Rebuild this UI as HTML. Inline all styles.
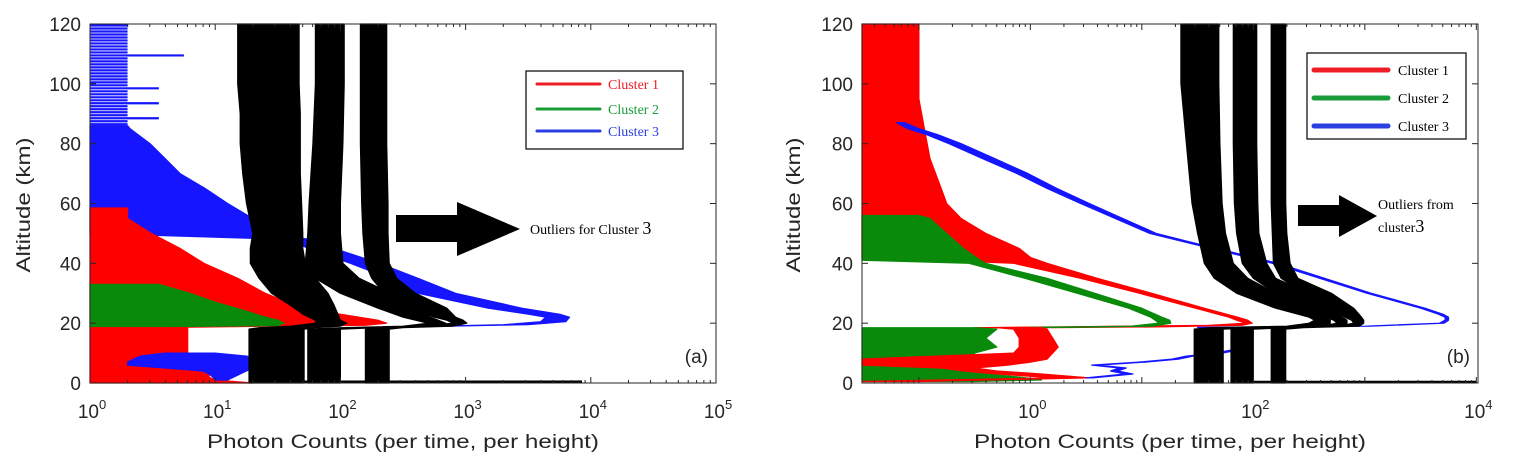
<!DOCTYPE html>
<html><head><meta charset="utf-8"><style>
html,body{margin:0;padding:0;background:#fff;}
svg{display:block;}
.tk{font-family:"Liberation Sans",sans-serif;font-size:19px;fill:#262626;}
.ttl{font-family:"Liberation Sans",sans-serif;font-size:19px;fill:#262626;}
.ser{font-family:"Liberation Serif",serif;font-size:14px;}
</style></head><body>
<svg id="chart" width="1516" height="470" viewBox="0 0 1516 470" xmlns="http://www.w3.org/2000/svg">
<rect width="1516" height="470" fill="#fff"/>
<g id="pa"></g>
<g id="pb"></g>
</svg>
<script>
// ---------- Panel A data (log10 photon counts vs altitude km) ----------
const a_black1_alt=[0,18,18.5,19,20,21,23,26,30,35,40,45,50,60,70,80,90,100,110,120];
const a_black1_lo=[1.27,1.27,1.35,1.6,1.8,1.8,1.7,1.6,1.45,1.35,1.28,1.28,1.3,1.25,1.22,1.2,1.2,1.18,1.18,1.18];
const a_black1_hi=[1.71,1.71,1.8,2.0,2.05,2.0,1.98,1.95,1.9,1.8,1.72,1.7,1.7,1.69,1.68,1.68,1.68,1.67,1.67,1.67];
const a_black2_alt=[0,18,18.5,19,20,21,22,25,30,35,40,50,60,80,100,120];
const a_black2_lo=[1.74,1.74,2.0,2.5,2.7,2.6,2.5,2.3,2.0,1.8,1.72,1.74,1.75,1.78,1.8,1.8];
const a_black2_hi=[2.0,2.0,2.3,2.8,2.84,2.78,2.72,2.6,2.4,2.15,2.02,2.0,2.0,2.02,2.03,2.03];
const a_black3_alt=[0,18,18.5,19,20,21,22,25,30,35,40,50,60,80,100,120];
const a_black3_lo=[2.2,2.2,2.3,2.6,2.9,2.85,2.75,2.55,2.35,2.25,2.2,2.18,2.17,2.16,2.16,2.16];
const a_black3_hi=[2.39,2.39,2.5,2.9,3.01,2.98,2.92,2.85,2.6,2.45,2.39,2.38,2.38,2.37,2.37,2.37];
const a_blackBase=[1.3,3.93];
const a_blue_alt=[18.8,19.5,20.5,22,23,25,30,35,40,45,48,50,55,60,65,70,75,80,85,86];
const a_blue_lo=[2.5,3.3,3.6,3.64,3.5,3.18,2.62,2.39,2.08,1.74,1.6,0,0,0,0,0,0,0,0,0];
const a_blue_hi=[2.6,3.5,3.8,3.83,3.75,3.45,2.92,2.62,2.31,1.95,1.75,1.45,1.3,1.1,0.92,0.72,0.6,0.48,0.32,0.3];
const a_stripe_alt=[86.5,87.5,88.5,89.5,90.5,91.5,92.5,93.5,94.5,95.5,96.5,97.5,98.5,99.5,100.5,101.5,102.5,103.5,104.5,105.5,106.5,107.5,108.5,109.5,110.5,111.5,112.5,113.5,114.5,115.5,116.5,117.5,118.5,119.5];
const a_stripe_len=[0.3,0.3,0.55,0.3,0.3,0.3,0.3,0.55,0.3,0.3,0.3,0.3,0.55,0.3,0.3,0.3,0.3,0.3,0.3,0.3,0.3,0.3,0.3,0.75,0.3,0.3,0.3,0.3,0.3,0.3,0.3,0.3,0.3,0.3];
const a_red_alt=[18.7,19.3,20,21,22,23,24,25,30,35,40,45,50,55,58.5];
const a_red_hi=[0.8,2.2,2.37,2.3,2.15,2.0,1.85,1.7,1.4,1.18,0.91,0.72,0.49,0.3,0.3];
const a_green_alt=[18.8,19.2,20,21,22,24,27,30,33];
const a_green_hi=[0.5,1.5,1.55,1.5,1.4,1.25,1.0,0.8,0.55];
const a_redLow_alt=[0,1,2,3,4,5,6,8,10,15,18,18.5];
const a_redLow_hi=[1.3,1.0,0.95,0.95,0.9,0.8,0.5,0.78,0.78,0.78,0.78,0.78];
const a_blueLow_alt=[1,2,3,4,5,6,7,8,9,10];
const a_blueLow_lo=[1.0,0.98,0.95,0.9,0.6,0.3,0.3,0.35,0.4,0.6];
const a_blueLow_hi=[1.1,1.15,1.2,1.25,1.3,1.3,1.33,1.33,1.25,1.0];
// ---------- Panel B data ----------
const b_black1_alt=[0,18,18.5,19,20,21,22,25,30,35,40,50,60,80,100,120];
const b_black1_lo=[1.47,1.47,1.6,2.3,2.5,2.55,2.5,2.2,1.85,1.65,1.56,1.5,1.45,1.4,1.35,1.35];
const b_black1_hi=[1.73,1.73,2.0,2.6,2.69,2.69,2.65,2.5,2.2,1.95,1.82,1.75,1.72,1.7,1.69,1.69];
const b_black2_lo=[1.8,1.8,2.1,2.6,2.75,2.72,2.65,2.5,2.2,2.0,1.9,1.85,1.83,1.82,1.82,1.82];
const b_black2_hi=[2.0,2.0,2.3,2.8,2.84,2.84,2.8,2.7,2.5,2.2,2.12,2.05,2.04,2.03,2.03,2.03];
const b_black3_lo=[2.16,2.16,2.3,2.75,2.9,2.88,2.82,2.7,2.45,2.25,2.18,2.17,2.16,2.16,2.16,2.16];
const b_black3_hi=[2.29,2.29,2.45,2.95,2.99,2.99,2.97,2.9,2.7,2.4,2.33,2.3,2.29,2.29,2.29,2.29];
const b_blackBase=[1.8,4.0];
const b_red_alt=[18.5,18.8,19.3,20,21,22,25,30,35,40,42,45,50,55,60,65,75,85,95,105,120];
const b_red_lo=[-0.5,0.3,1.6,1.93,1.85,1.78,1.48,0.98,0.45,-0.15,-1.52,-1.52,-1.52,-1.52,-1.52,-1.52,-1.52,-1.52,-1.52,-1.52,-1.52];
const b_red_hi=[0.2,1.2,1.9,1.99,1.95,1.86,1.56,1.09,0.6,0.15,0.0,-0.1,-0.4,-0.62,-0.75,-0.8,-0.9,-0.95,-1.0,-1.0,-1.0];
const b_green_alt=[18.6,19,20,21,22,25,30,35,40,41,45,50,55,56];
const b_green_lo=[0,0.9,1.15,1.12,1.08,0.88,0.42,-0.05,-0.55,-1.52,-1.52,-1.52,-1.52,-1.52];
const b_green_hi=[0.3,1.1,1.26,1.25,1.18,1.0,0.58,0.15,-0.4,-0.45,-0.6,-0.75,-0.9,-1.0];
const b_greenLow_alt=[0.5,1,2,3,5,8,10,12,15,18,18.5];
const b_greenLow_hi=[-0.5,0.1,-0.1,-0.4,-0.6,-0.5,-0.5,-0.3,-0.4,-0.3,-0.5];
const b_redLow_alt=[0.5,1.7,3,4,5,6,7,8,10,12,15,18,18.5];
const b_redLow_lo=[-1.52,0.2,-0.3,-0.6,-0.8,-1.52,-1.52,-1.52,-0.15,-0.1,-0.1,-0.15,-0.3];
const b_redLow_hi=[-1.0,0.53,0.1,-0.3,-0.5,-0.2,0.0,0.15,0.2,0.25,0.2,0.15,0.1];
const b_blue_alt=[18.6,19,20,21,22,23,25,30,40,47,50,55,60,65,70,75,80,83,85,87];
const b_blue_lo=[1.5,3.0,3.67,3.72,3.72,3.66,3.5,3.02,2.17,1.4,1.07,0.76,0.45,0.15,-0.12,-0.43,-0.73,-0.93,-1.1,-1.2];
const b_blue_hi=[1.55,3.05,3.71,3.75,3.75,3.7,3.54,3.06,2.22,1.45,1.13,0.83,0.53,0.24,-0.02,-0.32,-0.62,-0.83,-1.0,-1.13];
const b_blueLow_alt=[1.7,3,4,5,6,7,8,9,10,11];
const b_blueLow_lo=[0.5,0.85,0.72,0.8,0.55,0.97,1.27,1.4,1.66,1.8];
const b_blueLow_hi=[0.56,0.92,0.78,0.86,0.61,1.03,1.33,1.46,1.72,1.86];
const yTicks=[0,20,40,60,80,100,120];
const aXTicks=[0,1,2,3,4,5];
const bXTicks=[0,2,4];

const NS='http://www.w3.org/2000/svg';
const TOP=24,BOT=383;
function yS(alt){return BOT-(alt/120)*(BOT-TOP);}
const A={x0:90,x1:716,l0:0,l1:5};
const B={x0:862,x1:1478,l0:-1.51,l1:4.015};
function xS(P,l){const v=P.x0+(l-P.l0)/(P.l1-P.l0)*(P.x1-P.x0);return Math.max(P.x0,Math.min(P.x1,v));}
function mk(tag,parent,attrs){const e=document.createElementNS(NS,tag);for(const k in attrs)e.setAttribute(k,attrs[k]);parent.appendChild(e);return e;}
function band(g,P,alt,lo,hi,color,name){
  let pts=[];
  for(let i=0;i<alt.length;i++)pts.push(xS(P,hi[i]).toFixed(1)+','+yS(alt[i]).toFixed(1));
  for(let i=alt.length-1;i>=0;i--)pts.push(xS(P,lo===null?P.l0:lo[i]).toFixed(1)+','+yS(alt[i]).toFixed(1));
  const p=mk('polygon',g,{points:pts.join(' '),fill:color,stroke:color,'stroke-width':1.2,'stroke-linejoin':'round'});
  
  
  return p;
}
function txt(g,x,y,s,cls,extra){const t=mk('text',g,Object.assign({x:x,y:y,class:cls},extra||{}));t.textContent=s;return t;}
function axes(g,P,xt,letter,yLabX,yTitleX){
  const fr=mk('rect',g,{x:P.x0,y:TOP,width:P.x1-P.x0,height:BOT-TOP,fill:'none',stroke:'#262626','stroke-width':1});
  
  yTicks.forEach(v=>{
    const y=yS(v);
    mk('line',g,{x1:P.x0,x2:P.x0+6,y1:y,y2:y,stroke:'#262626'});
    mk('line',g,{x1:P.x1,x2:P.x1-6,y1:y,y2:y,stroke:'#262626'});
    const t=txt(g,yLabX,y+7,String(v),'tk',{'text-anchor':'end'});
    
  });
  for(let d=Math.floor(P.l0);d<P.l1;d++){for(let m=1;m<10;m++){const l=d+Math.log10(m);if(l<P.l0||l>P.l1)continue;const x=xS(P,l);const len=m===1?6:3;
    mk('line',g,{x1:x,x2:x,y1:BOT,y2:BOT-len,stroke:'#262626'});mk('line',g,{x1:x,x2:x,y1:TOP,y2:TOP+len,stroke:'#262626'});}}
  xt.forEach(v=>{
    const x=xS(P,v);
    const t=mk('text',g,{x:x+2,y:418,class:'tk','text-anchor':'middle'});
    
    t.appendChild(document.createTextNode('10'));
    const s=document.createElementNS(NS,'tspan');s.setAttribute('dy','-9');s.setAttribute('font-size','13');s.textContent=String(v);t.appendChild(s);
  });
  const xt2=txt(g,(P.x0+P.x1)/2,448,'Photon Counts (per time, per height)','ttl',{'text-anchor':'middle',textLength:392,lengthAdjust:'spacingAndGlyphs'});
  
  const yt=txt(g,0,0,'Altitude (km)','ttl',{'text-anchor':'middle',transform:'translate('+yTitleX+',205) rotate(-90)',textLength:135,lengthAdjust:'spacingAndGlyphs'});
  
  const pl=txt(g,P.x1-8,363,'('+letter+')','tk',{'text-anchor':'end','font-size':'22'});
  
}
function legend(g,bx,by,bw,bh,ys,lx1,lx2,tx,colorText,lw,fs){
  const lg=mk('g',g,{});
  mk('rect',lg,{x:bx,y:by,width:bw,height:bh,fill:'#fff',stroke:'#000','stroke-width':1.2});
  const cols=['#ee1c25','#1a9c3a','#2b3fe0'];
  ys.forEach((y,i)=>{
    const e=mk('g',lg,{});
    mk('line',e,{x1:lx1,x2:lx2,y1:y,y2:y,stroke:cols[i],'stroke-width':lw,'stroke-linecap':'round'});
    txt(e,tx,y+5,'Cluster '+(i+1),'ser',{fill:colorText?cols[i]:'#000','font-size':fs});
  });
}
// ---- Panel A ----
const ga=document.getElementById('pa');
const RED='#ff0000',GRN='#0a8a0a',BLU='#1515ff',BLK='#000';
for(let i=0;i<a_stripe_alt.length;i++){
  const l=mk('line',ga,{x1:xS(A,0),x2:xS(A,a_stripe_len[i]),y1:yS(a_stripe_alt[i]),y2:yS(a_stripe_alt[i]),stroke:BLU,'stroke-width':2.2});
  
  
}
band(ga,A,a_blue_alt,a_blue_lo,a_blue_hi,BLU,'cluster3-profile');
band(ga,A,a_red_alt,null,a_red_hi,RED,'cluster1-profile');
band(ga,A,a_green_alt,null,a_green_hi,GRN,'cluster2-profile');
band(ga,A,a_redLow_alt,null,a_redLow_hi,RED,'cluster1-lower');
band(ga,A,a_blueLow_alt,a_blueLow_lo,a_blueLow_hi,BLU,'cluster3-lower');
band(ga,A,a_black1_alt,a_black1_lo,a_black1_hi,BLK,'outlier-band-1');
band(ga,A,a_black2_alt,a_black2_lo,a_black2_hi,BLK,'outlier-band-2');
band(ga,A,a_black3_alt,a_black3_lo,a_black3_hi,BLK,'outlier-band-3');
{const l=mk('line',ga,{x1:xS(A,a_blackBase[0]),x2:xS(A,a_blackBase[1]),y1:yS(0.4),y2:yS(0.4),stroke:BLK,'stroke-width':2.5});}
axes(ga,A,aXTicks,'a',81,30);
legend(ga,526,71,157,78,[84,109,131],537,600,608,true,3,'15');
{const ar=mk('polygon',ga,{points:'396,215 457,215 457,202 520,229 457,256 457,242 396,242',fill:'#000'});
const t=txt(ga,530,234,'Outliers for Cluster ','ser',{fill:'#000'});const s=document.createElementNS(NS,'tspan');s.setAttribute('font-size','18');s.textContent='3';t.appendChild(s);}
// ---- Panel B ----
const gb=document.getElementById('pb');
{const l=mk('line',gb,{x1:864,x2:864,y1:yS(120),y2:yS(85),stroke:BLU,'stroke-width':3});}
band(gb,B,b_red_alt,b_red_lo,b_red_hi,RED,'cluster1-profile');
band(gb,B,b_green_alt,b_green_lo,b_green_hi,GRN,'cluster2-profile');
band(gb,B,b_greenLow_alt,null,b_greenLow_hi,GRN,'cluster2-lower');
band(gb,B,b_redLow_alt,b_redLow_lo,b_redLow_hi,RED,'cluster1-lower');
band(gb,B,b_blue_alt,b_blue_lo,b_blue_hi,BLU,'cluster3-profile');
band(gb,B,b_blueLow_alt,b_blueLow_lo,b_blueLow_hi,BLU,'cluster3-lower');
band(gb,B,b_black1_alt,b_black1_lo,b_black1_hi,BLK,'outlier-band-1');
band(gb,B,b_black1_alt,b_black2_lo,b_black2_hi,BLK,'outlier-band-2');
band(gb,B,b_black1_alt,b_black3_lo,b_black3_hi,BLK,'outlier-band-3');
{const l=mk('line',gb,{x1:xS(B,b_blackBase[0]),x2:xS(B,b_blackBase[1]),y1:yS(0.4),y2:yS(0.4),stroke:BLK,'stroke-width':2});}
axes(gb,B,bXTicks,'b',853,800);
legend(gb,1307,53,159,86,[70,98,126],1314,1388,1398,false,5,'17');
{const ar=mk('polygon',gb,{points:'1298,205 1339,205 1339,195 1377,216 1339,237 1339,226 1298,226',fill:'#000'});
const t=txt(gb,1378,209,'Outliers from','ser',{fill:'#000','font-size':'16'});
const t2=txt(gb,1378,232,'cluster','ser',{fill:'#000','font-size':'16'});const s=document.createElementNS(NS,'tspan');s.setAttribute('font-size','18');s.textContent='3';t2.appendChild(s);}
</script>
</body></html>
